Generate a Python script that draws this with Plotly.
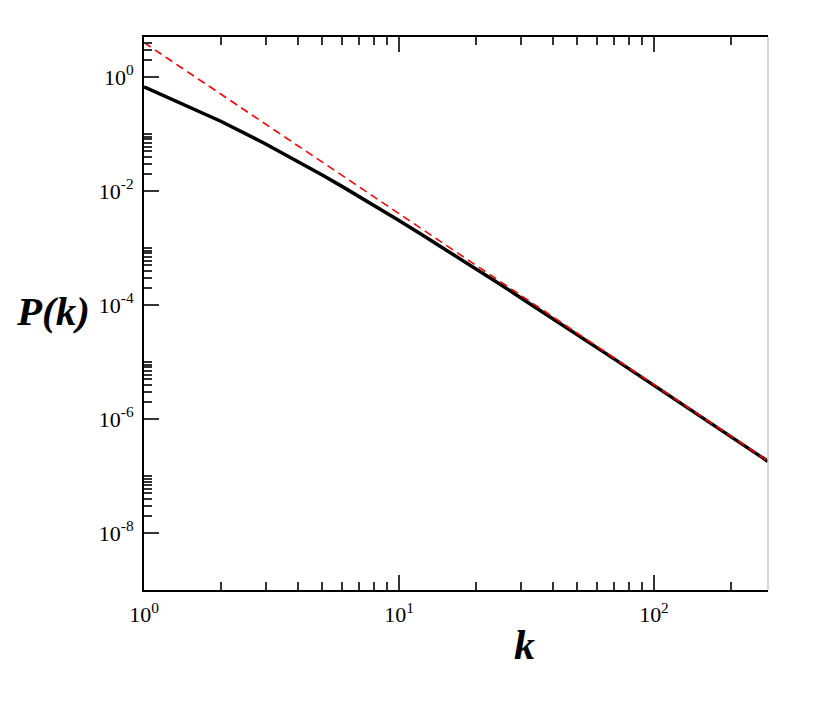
import plotly.graph_objects as go

# degree values k and distribution P(k)
k_black = [1, 2, 3, 4, 5, 6, 7, 8, 10, 12, 15, 20, 25, 30, 40, 50, 70, 100, 150, 200, 280]
p_black = [0.667, 0.167, 0.0667, 0.0333, 0.019, 0.0119, 0.00794, 0.00556, 0.00303,
           0.00183, 0.00098, 0.000433, 0.000228, 0.000134, 5.81e-5, 3.02e-5,
           1.12e-5, 3.88e-6, 1.17e-6, 4.93e-7, 1.80e-7]

# power-law reference line (red dashed)
k_red = [1, 280]
p_red = [4.0, 1.82e-7]

x_tickvals = [1, 10, 100]
x_ticktext = ["10<sup>0</sup>", "10<sup>1</sup>", "10<sup>2</sup>"]
y_tickvals = [1, 1e-2, 1e-4, 1e-6, 1e-8]
y_ticktext = ["10<sup>0</sup>", "10<sup>-2</sup>", "10<sup>-4</sup>", "10<sup>-6</sup>", "10<sup>-8</sup>"]

x_minor = [m * 10 ** e for e in (0, 1, 2) for m in range(2, 10)]
y_minor = [m * 10.0 ** e for e in (-10, -8, -6, -4, -2, 0) for m in range(2, 11)]

fig = go.Figure()
fig.add_trace(go.Scatter(x=k_black, y=p_black, mode="lines",
                         line=dict(color="black", width=3.5), showlegend=False))
fig.add_trace(go.Scatter(x=k_red, y=p_red, mode="lines",
                         line=dict(color="#ff0000", width=1.6, dash="8px,5px"), showlegend=False))

serif = "Liberation Serif, Times New Roman, serif"
tickfont = dict(family=serif, size=22, color="black")

fig.update_layout(
    width=820, height=704,
    margin=dict(l=136, r=60, t=29, b=122),
    paper_bgcolor="white", plot_bgcolor="white",
    showlegend=False,
    xaxis=dict(type="log", range=[0, 2.4472], showgrid=False, zeroline=False,
               showline=True, linecolor="black", linewidth=2, mirror="ticks",
               ticks="inside", ticklen=15, tickwidth=1.5, tickcolor="#333",
               tickmode="array", tickvals=x_tickvals, ticktext=x_ticktext,
               tickfont=tickfont, ticklabelstandoff=4,
               minor=dict(tickmode="array", tickvals=x_minor, ticks="inside",
                          ticklen=8, tickwidth=1.5, tickcolor="#333", showgrid=False)),
    yaxis=dict(type="log", range=[-9, 0.7], showgrid=False, zeroline=False,
               showline=True, linecolor="black", linewidth=2, mirror=False,
               ticks="inside", ticklen=15, tickwidth=1.5, tickcolor="#333",
               tickmode="array", tickvals=y_tickvals, ticktext=y_ticktext,
               tickfont=tickfont, ticklabelstandoff=4,
               minor=dict(tickmode="array", tickvals=y_minor, ticks="inside",
                          ticklen=8, tickwidth=1.5, tickcolor="#333", showgrid=False)),
    shapes=[dict(type="line", xref="paper", yref="paper", x0=1, x1=1, y0=0, y1=1,
                 line=dict(color="#c8c8c8", width=1.5))],
    annotations=[
        dict(text="<b><i>P(k)</i></b>", xref="paper", yref="paper",
             x=-0.146, y=0.505, xanchor="center", yanchor="middle", showarrow=False,
             font=dict(family=serif, size=41, color="black")),
        dict(text="<b><i>k</i></b>", xref="paper", yref="paper",
             x=0.61, y=-0.10, xanchor="center", yanchor="middle", showarrow=False,
             font=dict(family=serif, size=42, color="black")),
    ],
)

fig.write_html("out.html")
